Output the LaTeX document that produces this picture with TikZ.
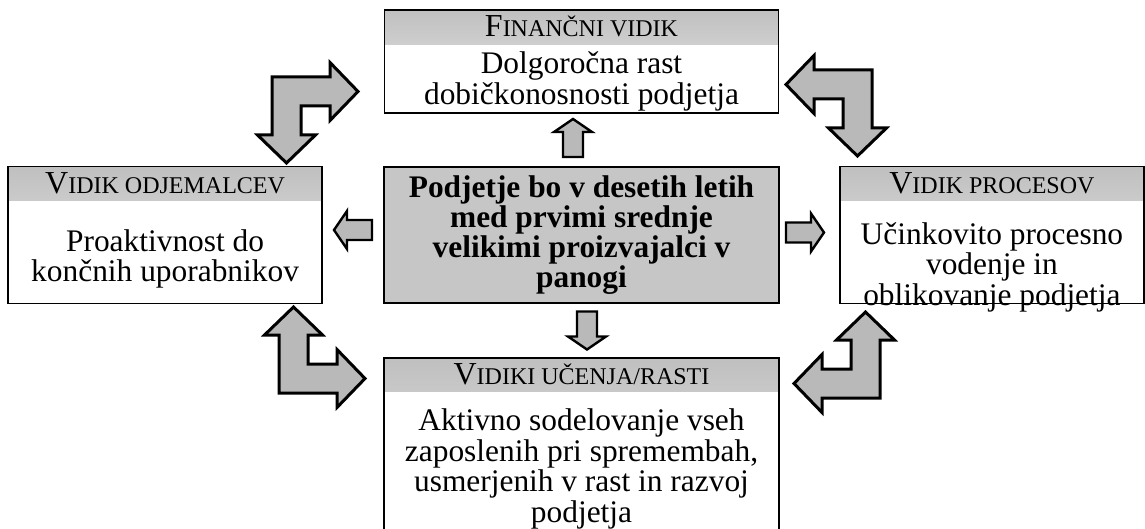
\documentclass[tikz,border=0pt]{standalone}
\usepackage{fontspec}
\setmainfont{Liberation Serif}
\usetikzlibrary{positioning, calc}

\newcommand{\capsc}[2]{{\fontsize{16}{16}\selectfont #1}{\fontsize{12}{12}\selectfont #2}}

\begin{document}
\begin{tikzpicture}[
    x=0.5pt, y=-0.5pt,
    persp/.style={rectangle, draw=black, line width=0.9pt, inner sep=0pt,
        path picture={\shade[top color=gray!50, bottom color=gray!15] (path picture bounding box.north west) rectangle ([yshift=-17pt]path picture bounding box.north east);}},
    head/.style={inner sep=0pt, minimum height=17pt},
    body/.style={inner sep=0pt, align=center, font=\fontsize{15.7}{#1}\selectfont},
    body/.default=14pt,
    goal/.style={rectangle, draw=black, line width=1pt, fill=gray!45, minimum width=197.5pt, minimum height=68pt, align=center, inner sep=0pt, font=\bfseries\fontsize{15.7}{15}\selectfont},
    pics/blockarrow/.style={code={
        \filldraw[fill=gray!55, draw=black, line width=1.2pt, line join=miter]
        (-19,-10) -- (6,-10) -- (6,-19) -- (19,0) -- (6,19) -- (6,10) -- (-19,10) -- cycle;
    }},
    pics/bendarrow/.style={code={
        \filldraw[fill=gray!55, draw=black, line width=1.5pt, line join=miter]
        (0,0) -- (58,0) -- (58,-14.5) -- (86,14.5) -- (58,43.5) -- (58,29) -- (29,29) -- (29,58) -- (43.5,58) -- (14.5,86) -- (-14.5,58) -- (0,58) -- cycle;
    }}
]
\useasboundingbox (0,0) rectangle (1145,529);

\node[goal] (goal) at (581.5,235) {Podjetje bo v desetih letih\\med prvimi srednje\\velikimi proizvajalci v\\panogi};
\node[persp, minimum width=197pt, minimum height=51.5pt, above=26pt of goal] (fin) {};
\node[persp, minimum width=157pt, minimum height=68.5pt, left=30pt of goal] (cust) {};
\node[persp, minimum width=152pt, minimum height=68.5pt, right=29.5pt of goal] (proc) {};
\node[persp, minimum width=197.5pt, minimum height=86pt, below=26.5pt of goal] (learn) {};

\node[head, below=0pt of fin.north] (finhead) {\capsc{F}{INANČNI VIDIK}};
\node[head, below=0pt of cust.north] (custhead) {\capsc{V}{IDIK ODJEMALCEV}};
\node[head, below=0pt of proc.north] (prochead) {\capsc{V}{IDIK PROCESOV}};
\node[head, below=0pt of learn.north] (learnhead) {\capsc{V}{IDIKI UČENJA/RASTI}};

\node[body, below=3.8pt of finhead] (finbody) {Dolgoročna rast\\dobičkonosnosti podjetja};
\node[body=15.3pt, below=14.3pt of custhead] (custbody) {Proaktivnost do\\končnih uporabnikov};
\node[body=12.8pt, below=10.8pt of prochead] (procbody) {Učinkovito procesno\\vodenje in\\oblikovanje podjetja};
\node[body, below=8.3pt of learnhead] (learnbody) {Aktivno sodelovanje vseh\\zaposlenih pri spremembah,\\usmerjenih v rast in razvoj\\podjetja};

\pic[rotate=90] at ($(goal.north)!0.5!(fin.south)+(-4.25pt,1pt)$) {blockarrow};
\pic[rotate=-90] at ($(goal.south)!0.5!(learn.north)+(2.75pt,0pt)$) {blockarrow};
\pic[rotate=180] at ($(goal.west)!0.5!(cust.east)+(0pt,2.5pt)$) {blockarrow};
\pic at ($(goal.east)!0.5!(proc.west)+(-2.25pt,1.25pt)$) {blockarrow};

\pic at (272,77) {bendarrow};
\pic[xscale=-1] at (872,70) {bendarrow};
\pic[yscale=-1] at (279,393) {bendarrow};
\pic[xscale=-1, yscale=-1] at (880,398) {bendarrow};
\end{tikzpicture}
\end{document}
